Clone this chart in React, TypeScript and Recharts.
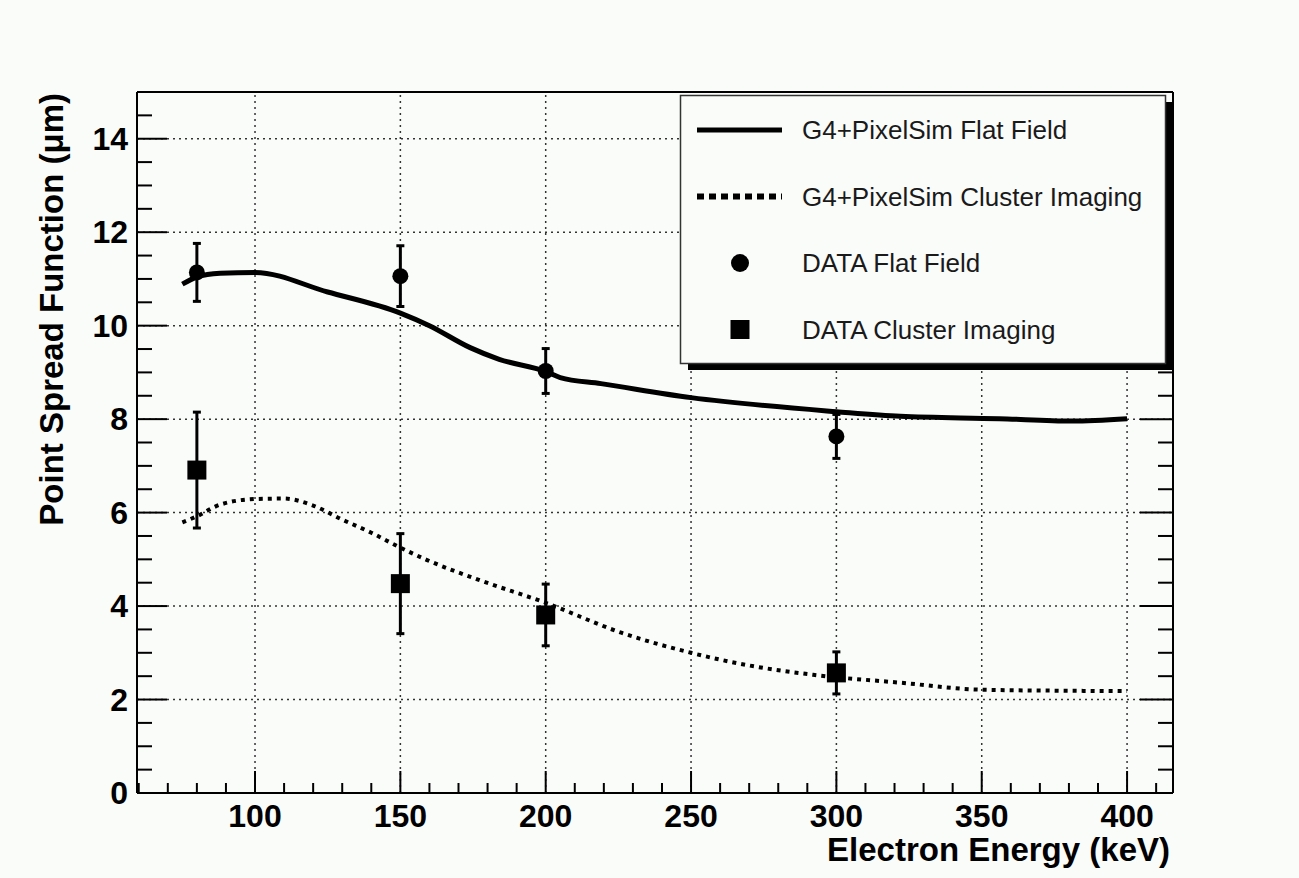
import { ComposedChart, Line, Scatter, ErrorBar, XAxis, YAxis, ReferenceLine, Legend, Customized } from "recharts";

const BG = "#fafcfa";
const FONT = "'Liberation Sans', Arial, Helvetica, sans-serif";

// axis ticks
const X_MAJOR = [100, 150, 200, 250, 300, 350, 400];
const X_TICKS = [60, 70, 80, 90, 100, 110, 120, 130, 140, 150, 160, 170, 180, 190, 200, 210, 220, 230, 240, 250, 260, 270, 280, 290, 300, 310, 320, 330, 340, 350, 360, 370, 380, 390, 400, 410];
const Y_MAJOR = [0, 2, 4, 6, 8, 10, 12, 14];
const Y_TICKS = [0, 0.5, 1, 1.5, 2, 2.5, 3, 3.5, 4, 4.5, 5, 5.5, 6, 6.5, 7, 7.5, 8, 8.5, 9, 9.5, 10, 10.5, 11, 11.5, 12, 12.5, 13, 13.5, 14, 14.5, 15];

// G4+PixelSim curves
const SIM_FLAT_E = [75, 80, 88, 100, 125, 150, 160, 174, 184, 200, 205, 219, 250, 300, 322, 356, 381, 400];
const SIM_FLAT_PSF = [10.89, 11.04, 11.12, 11.14, 10.72, 10.27, 10.0, 9.53, 9.28, 9.02, 8.89, 8.76, 8.46, 8.16, 8.06, 8.01, 7.96, 8.01];
const SIM_CLUSTER_E = [75, 80, 88, 100, 110, 120, 130, 140, 150, 159, 177, 200, 226, 250, 269, 292, 322, 350, 375, 400];
const SIM_CLUSTER_PSF = [5.79, 5.92, 6.17, 6.29, 6.3, 6.15, 5.85, 5.57, 5.25, 4.99, 4.56, 4.07, 3.43, 3.0, 2.74, 2.53, 2.36, 2.21, 2.19, 2.18];

// measured points
const DATA_E = [80, 150, 200, 300];
const DATA_FLAT_PSF = [11.14, 11.06, 9.03, 7.63];
const DATA_FLAT_ERR = [0.62, 0.65, 0.48, 0.47];
const DATA_CLUSTER_PSF = [6.91, 4.48, 3.81, 2.57];
const DATA_CLUSTER_ERR = [1.24, 1.07, 0.66, 0.45];

const simFlat = SIM_FLAT_E.map((x, i) => ({ x, y: SIM_FLAT_PSF[i] }));
const simCluster = SIM_CLUSTER_E.map((x, i) => ({ x, y: SIM_CLUSTER_PSF[i] }));
const dataFlat = DATA_E.map((x, i) => ({ x, y: DATA_FLAT_PSF[i], err: DATA_FLAT_ERR[i] }));
const dataCluster = DATA_E.map((x, i) => ({ x, y: DATA_CLUSTER_PSF[i], err: DATA_CLUSTER_ERR[i] }));

const BottomTick = ({ x, y, payload }: any) => {
  const major = X_MAJOR.includes(payload.value);
  return (
    <g>
      <line x1={x} x2={x} y1={y} y2={y - (major ? 22 : 10)} stroke="#000" strokeWidth={2} />
      {major && (
        <text x={x} y={y + 34} textAnchor="middle" fontSize={32} fontWeight="bold" fontFamily={FONT} fill="#000">
          {payload.value}
        </text>
      )}
    </g>
  );
};

const TopTick = ({ x, y, payload }: any) => {
  const major = X_MAJOR.includes(payload.value);
  return <line x1={x} x2={x} y1={y} y2={y + (major ? 20 : 10)} stroke="#000" strokeWidth={2} />;
};

const LeftTick = ({ x, y, payload }: any) => {
  const major = Y_MAJOR.includes(payload.value);
  return (
    <g>
      <line x1={x} x2={x + (major ? 30 : 15)} y1={y} y2={y} stroke="#000" strokeWidth={2} />
      {major && (
        <text x={x - 9} y={y + 11} textAnchor="end" fontSize={32} fontWeight="bold" fontFamily={FONT} fill="#000">
          {payload.value}
        </text>
      )}
    </g>
  );
};

const RightTick = ({ x, y, payload }: any) => {
  const major = Y_MAJOR.includes(payload.value);
  return <line x1={x} x2={x - (major ? 33 : 15)} y1={y} y2={y} stroke="#000" strokeWidth={2} />;
};

const circleShape = ({ cx, cy }: any) => <circle cx={cx} cy={cy} r={8} fill="#000" />;
const squareShape = ({ cx, cy }: any) => <rect x={cx - 9.5} y={cy - 9.5} width={19} height={19} fill="#000" />;

const LEGEND_ROWS = [
  { name: "G4+PixelSim Flat Field", kind: "solid" },
  { name: "G4+PixelSim Cluster Imaging", kind: "dotted" },
  { name: "DATA Flat Field", kind: "circle" },
  { name: "DATA Cluster Imaging", kind: "square" },
];

const LegendBox = () => (
  <svg width={495} height={277} style={{ overflow: "visible", display: "block" }}>
    <rect x={8} y={7} width={485} height={268} fill="#000" />
    <rect x={0.5} y={0.5} width={485} height={268} fill={BG} stroke="#333" strokeWidth={1.5} />
    {LEGEND_ROWS.map((r, i) => {
      const cy = 35 + i * 66.5;
      return (
        <g key={r.name}>
          {r.kind === "solid" && <line x1={17} x2={102} y1={cy} y2={cy} stroke="#000" strokeWidth={5} />}
          {r.kind === "dotted" && <line x1={17} x2={102} y1={cy} y2={cy} stroke="#000" strokeWidth={6} strokeDasharray="7 5" />}
          {r.kind === "circle" && <circle cx={60} cy={cy} r={9} fill="#000" />}
          {r.kind === "square" && <rect x={50.5} y={cy - 9.5} width={19} height={19} fill="#000" />}
          <text x={122} y={cy + 9} fontSize={26} fontFamily={FONT} fill="#1a1a1a">
            {r.name}
          </text>
        </g>
      );
    })}
  </svg>
);

const AxisTitles = () => (
  <g>
    <text x={1170} y={861} textAnchor="end" fontSize={33} fontWeight="bold" fontFamily={FONT} fill="#000">
      Electron Energy (keV)
    </text>
    <text
      transform="translate(63,93) rotate(-90)"
      textAnchor="end"
      fontSize={33}
      fontWeight="bold"
      fontFamily={FONT}
      fill="#000"
    >
      Point Spread Function (μm)
    </text>
  </g>
);

export default function App() {
  return (
    <div style={{ position: "fixed", left: 0, top: 0, width: 1299, height: 878, background: BG }}>
      <ComposedChart width={1299} height={878} margin={{ top: 91, right: 125, bottom: 84, left: 136 }}>
        <XAxis
          dataKey="x"
          type="number"
          domain={[59.4, 415.8]}
          allowDataOverflow
          ticks={X_TICKS}
          interval={0}
          height={1}
          tickSize={0}
          tickMargin={0}
          tick={<BottomTick />}
          axisLine={{ stroke: "#000", strokeWidth: 2 }}
        />
        <XAxis
          xAxisId="top"
          orientation="top"
          type="number"
          domain={[59.4, 415.8]}
          allowDataOverflow
          ticks={X_TICKS}
          interval={0}
          height={1}
          tickSize={0}
          tickMargin={0}
          tick={<TopTick />}
          axisLine={{ stroke: "#000", strokeWidth: 2 }}
        />
        <YAxis
          dataKey="y"
          type="number"
          domain={[0, 15]}
          allowDataOverflow
          ticks={Y_TICKS}
          interval={0}
          width={1}
          tickSize={0}
          tickMargin={0}
          tick={<LeftTick />}
          axisLine={{ stroke: "#000", strokeWidth: 2 }}
        />
        <YAxis
          yAxisId="right"
          orientation="right"
          type="number"
          domain={[0, 15]}
          allowDataOverflow
          ticks={Y_TICKS}
          interval={0}
          width={1}
          tickSize={0}
          tickMargin={0}
          tick={<RightTick />}
          axisLine={{ stroke: "#000", strokeWidth: 2 }}
        />
        {X_MAJOR.map((v) => (
          <ReferenceLine key={"gx" + v} x={v} stroke="#333" strokeWidth={1.5} strokeDasharray="2 4" />
        ))}
        {Y_MAJOR.filter((v) => v > 0).map((v) => (
          <ReferenceLine key={"gy" + v} y={v} stroke="#333" strokeWidth={1.5} strokeDasharray="2 4" />
        ))}
        <Line data={simFlat} dataKey="y" type="monotone" stroke="#000" strokeWidth={5} dot={false} isAnimationActive={false} />
        <Line
          data={simCluster}
          dataKey="y"
          type="monotone"
          stroke="#000"
          strokeWidth={4}
          strokeDasharray="4 5"
          dot={false}
          isAnimationActive={false}
        />
        <Scatter data={dataFlat} dataKey="y" shape={circleShape} isAnimationActive={false}>
          <ErrorBar dataKey="err" direction="y" width={4} stroke="#000" strokeWidth={3} isAnimationActive={false} />
        </Scatter>
        <Scatter data={dataCluster} dataKey="y" shape={squareShape} isAnimationActive={false}>
          <ErrorBar dataKey="err" direction="y" width={4} stroke="#000" strokeWidth={3} isAnimationActive={false} />
        </Scatter>
        <Legend
          layout="horizontal"
          verticalAlign="middle"
          align="center"
          content={<LegendBox />}
          wrapperStyle={{ left: 680, top: 95, right: "auto", bottom: "auto", width: 495, height: 277, margin: 0 }}
        />
        <Customized component={<AxisTitles />} />
      </ComposedChart>
    </div>
  );
}
